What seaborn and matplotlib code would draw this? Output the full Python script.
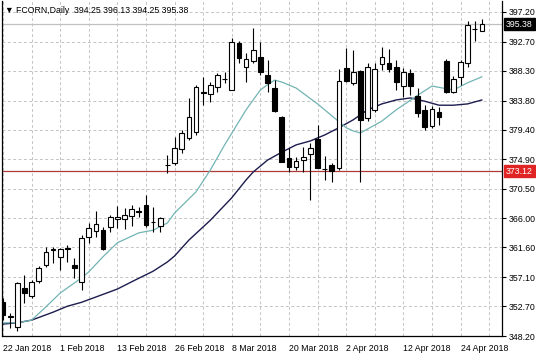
import matplotlib
matplotlib.use("Agg")
import matplotlib.pyplot as plt
import matplotlib.transforms as mtransforms
import seaborn as sns
import pandas as pd
import numpy as np

# daily candles, 22 Jan 2018 .. 27 Apr 2018
opens = [353.3, 351.0, 349.6, 355.5, 354.2, 356.5, 358.9, 361.2, 360.2, 361.4,
         358.9, 356.4, 363.2, 364.1, 364.2, 364.7, 365.9, 365.9, 366.3, 367.0,
         368.0, 365.5, 364.8, 374.0, 374.3, 376.5, 378.1, 379.1, 385.0, 384.8,
         385.9, 387.0, 385.4, 392.5, 388.9, 389.8, 390.4, 387.7, 385.7, 381.3,
         375.1, 373.8, 374.8, 375.7, 378.0, 373.5, 374.1, 373.6, 388.7, 386.5,
         388.3, 381.2, 382.4, 389.3, 389.5, 388.9, 386.0, 388.0, 384.5, 382.4,
         380.0, 382.1, 389.8, 385.1, 387.4, 389.5, 394.6, 394.25]
highs = [354.0, 351.7, 356.3, 357.4, 356.7, 358.8, 361.7, 361.7, 361.5, 362.0,
         360.0, 363.5, 365.3, 367.1, 364.7, 366.5, 367.9, 367.6, 368.0, 367.7,
         369.5, 367.7, 366.2, 375.6, 378.3, 379.4, 384.2, 386.2, 387.4, 386.6,
         388.0, 388.1, 393.3, 392.8, 391.0, 394.8, 392.7, 389.9, 386.9, 381.5,
         376.6, 375.3, 376.8, 377.4, 380.1, 375.4, 374.4, 388.6, 391.8, 391.5,
         388.4, 389.5, 389.5, 391.9, 391.6, 389.9, 388.7, 388.6, 385.7, 383.1,
         383.0, 382.8, 390.1, 387.5, 389.9, 395.8, 395.8, 396.13]
lows = [350.6, 349.4, 349.0, 353.2, 353.9, 356.2, 358.6, 359.2, 358.2, 359.4,
        357.0, 355.2, 362.3, 363.2, 361.2, 363.9, 364.5, 364.4, 364.8, 366.2,
        364.7, 363.9, 363.9, 372.8, 374.0, 375.9, 377.8, 378.6, 383.1, 383.6,
        385.1, 386.5, 385.4, 389.5, 386.6, 389.5, 387.7, 385.1, 382.1, 374.5,
        373.0, 373.3, 373.0, 368.8, 373.6, 371.8, 371.5, 373.3, 386.6, 386.2,
        371.5, 380.7, 382.1, 388.4, 388.1, 385.4, 384.3, 384.6, 381.3, 379.4,
        379.7, 380.1, 384.9, 384.9, 386.2, 388.9, 392.8, 394.25]
closes = [351.4, 351.2, 356.2, 354.7, 356.4, 358.5, 360.9, 361.4, 361.4, 361.5,
          358.5, 363.0, 364.5, 365.1, 361.4, 366.2, 366.2, 366.5, 367.4, 367.1,
          365.0, 365.4, 366.0, 374.1, 376.6, 378.9, 381.3, 385.9, 385.1, 386.2,
          387.7, 387.1, 392.7, 390.2, 390.1, 391.5, 388.1, 386.5, 382.2, 374.5,
          373.8, 374.7, 375.3, 376.6, 373.6, 373.4, 373.2, 386.8, 386.8, 388.1,
          380.9, 388.9, 388.6, 390.4, 388.6, 386.6, 388.1, 386.0, 381.9, 379.8,
          382.5, 381.3, 385.1, 387.1, 389.6, 395.2, 394.7, 395.38]

# moving averages (bar index, price)
fast_ma_idx = [0, 2, 4, 6, 8, 11, 12, 14, 16, 19, 21, 23, 24, 27, 29, 31, 34, 36,
               37, 38, 39, 41, 44, 46, 48, 49, 50, 53, 55, 58, 60, 62, 63, 65, 67]
fast_ma_val = [350.2, 350.2, 350.6, 352.6, 354.7, 357.0, 357.9, 360.2, 362.3, 363.8,
               364.2, 365.3, 366.8, 370.0, 373.3, 377.1, 382.4, 385.4, 386.2, 386.9,
               386.6, 385.7, 383.3, 381.5, 379.7, 379.2, 378.9, 380.7, 382.4, 384.6,
               386.0, 385.6, 385.4, 386.5, 387.4]
slow_ma_idx = [0, 2, 4, 7, 9, 11, 14, 16, 18, 21, 23, 24, 26, 29, 32, 34, 35, 37,
               39, 41, 43, 45, 47, 49, 51, 53, 55, 57, 59, 61, 63, 65, 67]
slow_ma_val = [350.0, 350.2, 350.6, 351.8, 352.7, 353.3, 354.5, 355.3, 356.4, 358.0,
               359.4, 360.3, 362.7, 365.7, 369.1, 371.8, 373.0, 374.8, 376.0, 377.1,
               377.7, 378.6, 379.7, 380.9, 382.4, 383.3, 383.9, 384.2, 383.7, 383.1,
               383.1, 383.3, 383.9]

price_ticks = [348.20, 352.70, 357.10, 361.60, 366.00, 370.50, 374.90,
               379.40, 383.80, 388.30, 392.70, 397.20]
date_tick_idx = [0, 8, 16, 24, 32, 40, 48, 56, 64]
date_labels = ["22 Jan 2018", "1 Feb 2018", "13 Feb 2018", "26 Feb 2018", "8 Mar 2018",
               "20 Mar 2018", "2 Apr 2018", "12 Apr 2018", "24 Apr 2018"]
level_line = 373.12
last_price = 395.38
title = "\u25bc FCORN,Daily  394.25 396.13 394.25 395.38"

df = pd.DataFrame({"open": opens, "high": highs, "low": lows, "close": closes})
df["idx"] = np.arange(len(df))
fast = pd.DataFrame({"idx": fast_ma_idx, "ma": fast_ma_val})
slow = pd.DataFrame({"idx": slow_ma_idx, "ma": slow_ma_val})

sns.set_style("white")
plt.rcParams["font.family"] = ["Liberation Sans", "DejaVu Sans"]

fig = plt.figure(figsize=(5.36, 3.57), dpi=100)
ax = fig.add_axes([2 / 536, 21 / 357, 500 / 536, 335 / 357])

# grid
grid_kw = dict(color="#c4c4c4", lw=0.7, ls=(0, (3, 2.5)))
for p in price_ticks:
    ax.axhline(p, zorder=0, **grid_kw)
for i in range(0, 69, 4):
    ax.axvline(i, zorder=0, **grid_kw)

# horizontal levels
ax.axhline(last_price, color="#c0c0c0", lw=0.9, zorder=1)
ax.axhline(level_line, color="#b03a3a", lw=0.9, zorder=1)

# moving averages
sns.lineplot(data=slow, x="idx", y="ma", ax=ax, color="#1c1c4e", lw=1.0, zorder=2)
sns.lineplot(data=fast, x="idx", y="ma", ax=ax, color="#72b4b4", lw=0.9, zorder=2)

# candles
ax.vlines(df["idx"], df["low"], df["high"], color="black", lw=0.8, zorder=3)
up = df["close"] >= df["open"]
body_bottom = np.minimum(df["open"], df["close"])
body_h = np.maximum(np.abs(df["close"] - df["open"]), 0.08)
ax.bar(df["idx"][up], body_h[up], bottom=body_bottom[up], width=0.66,
       color="white", edgecolor="black", linewidth=0.8, zorder=4)
ax.bar(df["idx"][~up], body_h[~up], bottom=body_bottom[~up], width=0.66,
       color="black", edgecolor="black", linewidth=0.8, zorder=4)

ax.set_xlim(-0.14, 69.8)
ax.set_ylim(348.2, 398.86)

ax.yaxis.tick_right()
ax.set_yticks(price_ticks)
ax.set_yticklabels([f"{p:.2f}" for p in price_ticks])
ax.set_xticks(date_tick_idx)
ax.set_xticklabels(date_labels, ha="left")
ax.tick_params(axis="both", labelsize=6.3, length=3, width=0.8, colors="black", pad=2)
ax.tick_params(axis="x", pad=3)
ax.set_xlabel("")
ax.set_ylabel("")
for side in ["left", "right", "bottom"]:
    ax.spines[side].set_color("black")
    ax.spines[side].set_linewidth(0.9)
ax.spines["top"].set_visible(False)

# price markers on the right axis
trans = mtransforms.blended_transform_factory(ax.transAxes, ax.transData)
ax.text(1.008, last_price, f"{last_price:.2f}", transform=trans, fontsize=6.3,
        color="white", va="center", ha="left",
        bbox=dict(boxstyle="square,pad=0.2", fc="black", ec="black"))
ax.text(1.008, level_line, f"{level_line:.2f}", transform=trans, fontsize=6.3,
        color="white", va="center", ha="left",
        bbox=dict(boxstyle="square,pad=0.2", fc="#e02424", ec="#e02424"))

ax.text(0.006, 0.985, title, transform=ax.transAxes, fontsize=6.3,
        va="top", ha="left", color="black")

fig.savefig("out.png", dpi=100)
